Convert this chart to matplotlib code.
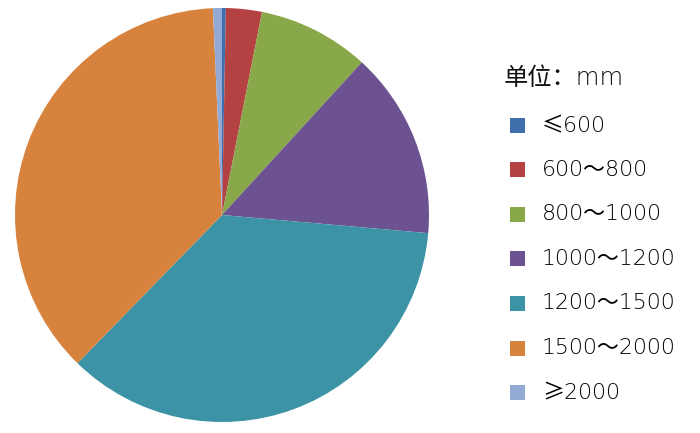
import matplotlib
matplotlib.use("Agg")
import matplotlib.pyplot as plt
from matplotlib.patches import Rectangle

plt.rcParams['font.family'] = ['DejaVu Sans', 'Noto Sans CJK SC']

categories = ['≤600', '600～800', '800～1000', '1000～1200', '1200～1500', '1500～2000', '≥2000']
values = [0.3, 2.8, 8.7, 14.6, 35.9, 37.0, 0.7]
colors = ['#3F6FAA', '#B54242', '#88A84A', '#6C5290', '#3C93A6', '#D7823D', '#93AAD4']
legend_title = '单位：mm'

W, H = 700, 433
fig = plt.figure(figsize=(W / 100, H / 100), dpi=100)
fig.patch.set_facecolor('white')

cx, cy, r = 222, 215, 207
ax = fig.add_axes([(cx - r) / W, (H - cy - r) / H, 2 * r / W, 2 * r / H])
ax.pie(values, colors=colors, startangle=90, counterclock=False,
       radius=1, wedgeprops=dict(linewidth=0))
ax.set_xlim(-1, 1)
ax.set_ylim(-1, 1)
ax.set_aspect('equal')
ax.axis('off')

# legend
fig.text(504 / W, 1 - 78 / H, legend_title, fontsize=17.5, color='#111111',
         va='center', ha='left', fontweight='light')
y0, dy = 125, 44.6
sq = 15
for i, (lab, col) in enumerate(zip(categories, colors)):
    yc = y0 + i * dy
    fig.patches.append(Rectangle(((510) / W, 1 - (yc + sq / 2) / H), sq / W, sq / H,
                                 transform=fig.transFigure, facecolor=col,
                                 edgecolor='none'))
    fig.text(542 / W, 1 - yc / H, lab, fontsize=15.8, color='#000000',
             va='center', ha='left', fontweight='light')

fig.savefig('out.png', dpi=100)
